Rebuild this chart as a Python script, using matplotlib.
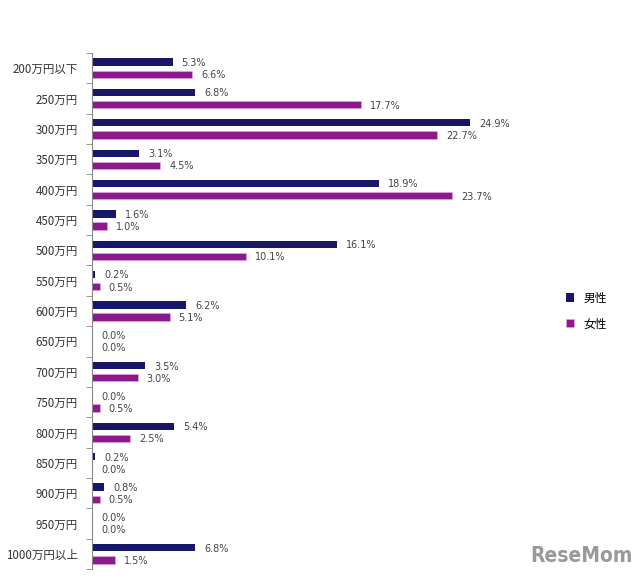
import matplotlib.pyplot as plt
import numpy as np

plt.rcParams['font.family'] = ['Noto Sans CJK JP', 'DejaVu Sans']

# Data
labels = ['200万円以下', '250万円', '300万円', '350万円', '400万円', '450万円', '500万円',
          '550万円', '600万円', '650万円', '700万円', '750万円', '800万円', '850万円',
          '900万円', '950万円', '1000万円以上']
male = [5.3, 6.8, 24.9, 3.1, 18.9, 1.6, 16.1, 0.2, 6.2, 0.0, 3.5, 0.0, 5.4, 0.2, 0.8, 0.0, 6.8]
female = [6.6, 17.7, 22.7, 4.5, 23.7, 1.0, 10.1, 0.5, 5.1, 0.0, 3.0, 0.5, 2.5, 0.0, 0.5, 0.0, 1.5]

navy = '#16166b'
purple = '#8c1a8a'

y = np.arange(len(labels))
h = 0.24

fig = plt.figure(figsize=(6.4, 5.79), dpi=100)
ax = fig.add_axes([92/640, 1 - 569/579, 456/640, 516/579])

ax.barh(y - 0.2, male, h, color=navy, label='男性')
ax.barh(y + 0.2, female, h, color=purple, edgecolor='#e8a8e8', linewidth=0.4, label='女性')

for i in range(len(labels)):
    ax.text(male[i] + 0.6, y[i] - 0.17, f'{male[i]:.1f}%', va='center', ha='left',
            fontsize=7, color='#444444', family='DejaVu Sans')
    ax.text(female[i] + 0.6, y[i] + 0.23, f'{female[i]:.1f}%', va='center', ha='left',
            fontsize=7, color='#444444', family='DejaVu Sans')

ax.set_xlim(0, 30)
ax.set_ylim(len(labels) - 0.5, -0.5)
ax.set_yticks(y)
ax.set_yticklabels(labels, fontsize=8.3, color='#333333')
ax.tick_params(axis='y', which='major', length=0, pad=10)
ax.set_yticks(np.arange(-0.5, len(labels), 1), minor=True)
ax.tick_params(axis='y', which='minor', length=4, color='#888888', direction='out')
ax.set_xticks([])
for s in ['top', 'right', 'bottom']:
    ax.spines[s].set_visible(False)
ax.spines['left'].set_color('#888888')

ax.legend(loc='center left', bbox_to_anchor=(555/456 - 92/456, 0.5), frameon=False,
          fontsize=8.5, handlelength=0.7, handleheight=0.7, labelspacing=1.1)

fig.text(0.988, 0.022, 'ReseMom', ha='right', va='bottom', fontsize=15,
         fontweight='bold', color='#999999', family='DejaVu Sans', stretch='condensed')

fig.savefig('out.png', dpi=100)
